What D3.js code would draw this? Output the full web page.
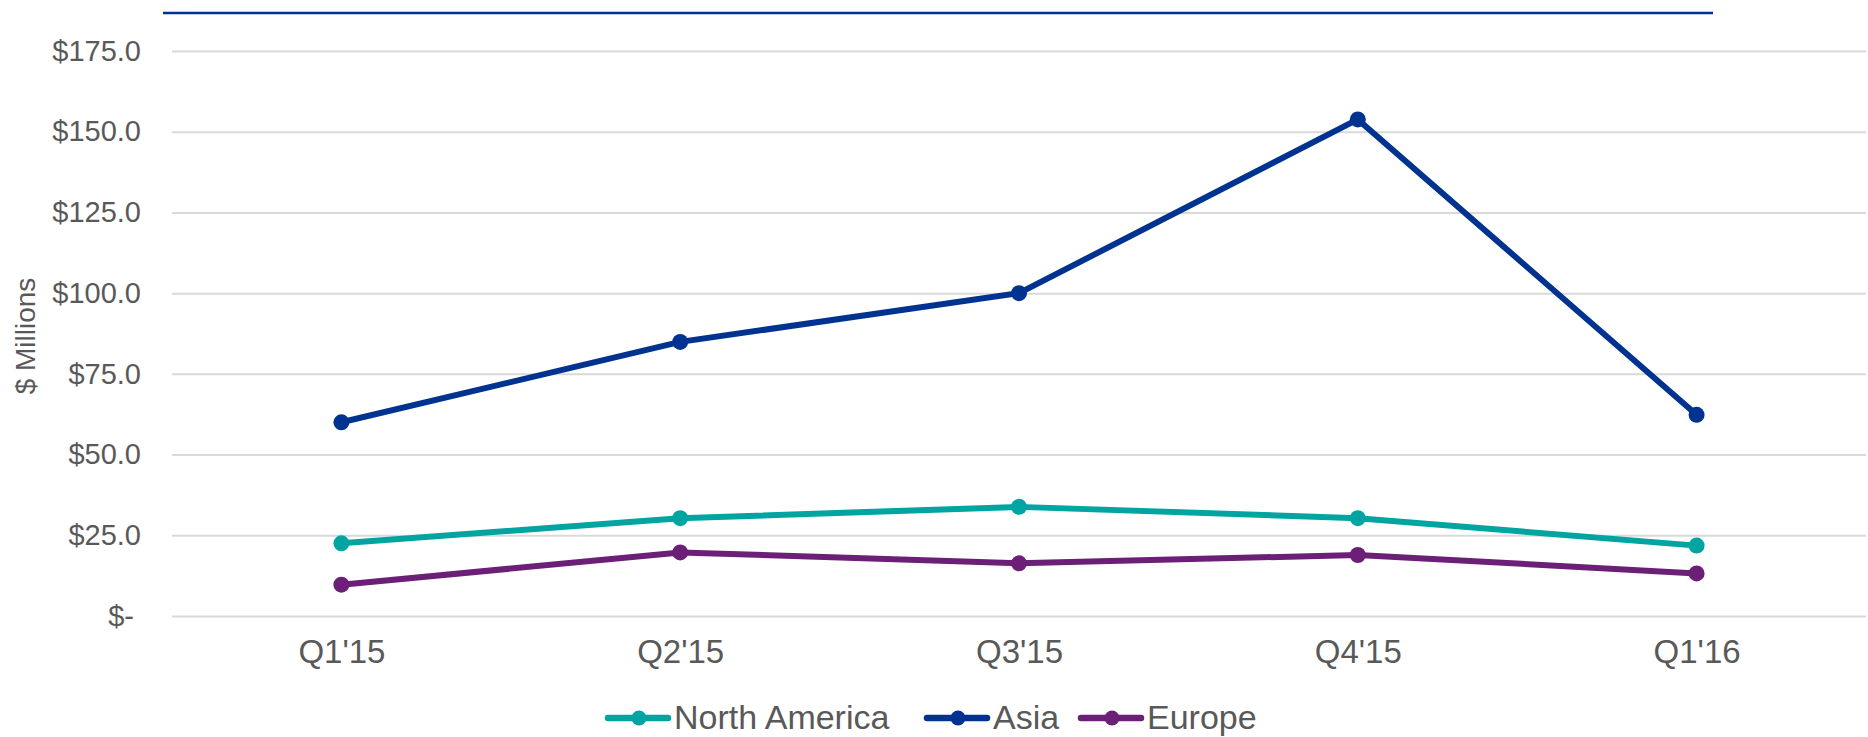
<!DOCTYPE html>
<html>
<head>
<meta charset="utf-8">
<script src="https://cdn.jsdelivr.net/npm/d3@7"></script>
<style>
  body { margin: 0; background: #fff; }
  svg { display: block; font-family: "Liberation Sans", Arial, sans-serif; }
</style>
</head>
<body>
<div id="app"></div>
<script>
var quarters = ["Q1'15", "Q2'15", "Q3'15", "Q4'15", "Q1'16"];
var northAmerica = [22.5, 30.3, 33.8, 30.3, 21.8];
var asia = [60.0, 84.9, 100.0, 153.8, 62.3];
var europe = [9.7, 19.7, 16.3, 18.9, 13.2];
var yTicks = [0, 25, 50, 75, 100, 125, 150, 175];
var seriesNames = ["North America", "Asia", "Europe"];
var seriesColors = ["#00A5A1", "#00338F", "#6C1F77"];

var width = 1868,
    height = 737,
    textColor = '#595959';

var series = [northAmerica, asia, europe].map(function(vals, i) {
  return { name: seriesNames[i], color: seriesColors[i], values: vals };
});

var svg = d3.select('#app').append('svg')
            .attr('width', width)
            .attr('height', height);

var x = d3.scalePoint()
          .domain(quarters)
          .range([172, 1866])
          .padding(0.5);

var y = d3.scaleLinear()
          .domain([0, 175])
          .range([616, 51]);

// decorative rule at the top
svg.append('line')
   .attr('x1', 163).attr('x2', 1713)
   .attr('y1', 13).attr('y2', 13)
   .style('stroke', '#00338F')
   .style('stroke-width', 2.5);

// gridlines + y labels
var yAxis = svg.append('g')
               .attr('transform', 'translate(172,0)')
               .call(d3.axisLeft(y)
                       .tickValues(yTicks)
                       .tickSize(-(1866 - 172))
                       .tickPadding(31)
                       .tickFormat(function(d) { return d === 0 ? '$-' : '$' + d3.format('.1f')(d); }));
yAxis.select('.domain').remove();
yAxis.selectAll('.tick line')
     .style('stroke', '#D9D9D9')
     .style('stroke-width', 2);
yAxis.selectAll('.tick text')
     .style('font-size', '29px')
     .style('fill', textColor)
     .attr('font-family', null)
     .attr('dx', function(d) { return d === 0 ? -7 : 0; });

// x labels
var xAxis = svg.append('g')
               .attr('transform', 'translate(0,616)')
               .call(d3.axisBottom(x).tickSize(0).tickPadding(24));
xAxis.select('.domain').remove();
xAxis.selectAll('.tick text')
     .style('font-size', '33px')
     .style('fill', textColor)
     .attr('font-family', null);

// y title
svg.append('text')
   .attr('transform', 'translate(35,336) rotate(-90)')
   .attr('text-anchor', 'middle')
   .style('font-size', '28px')
   .style('fill', textColor)
   .text('$ Millions');

// lines
var line = d3.line()
             .x(function(d, i) { return x(quarters[i]); })
             .y(function(d) { return y(d); });

var groups = svg.selectAll('.series')
                .data(series)
                .enter().append('g')
                .attr('class', 'series');

groups.append('path')
      .attr('d', function(d) { return line(d.values); })
      .style('fill', 'none')
      .style('stroke', function(d) { return d.color; })
      .style('stroke-width', 6)
      .style('stroke-linejoin', 'round');

groups.selectAll('circle')
      .data(function(d) { return d.values.map(function(v, i) { return { v: v, i: i, color: d.color }; }); })
      .enter().append('circle')
      .attr('cx', function(d) { return x(quarters[d.i]); })
      .attr('cy', function(d) { return y(d.v); })
      .attr('r', 8)
      .style('fill', function(d) { return d.color; });

// legend (nudged up a little so descenders stay inside the frame)
var legendX = [605, 924, 1078];
var legend = svg.selectAll('.legend')
                .data(series)
                .enter().append('g')
                .attr('class', 'legend')
                .attr('transform', function(d, i) { return 'translate(' + legendX[i] + ',718)'; });

legend.append('line')
      .attr('x1', 3).attr('x2', 63)
      .style('stroke', function(d) { return d.color; })
      .style('stroke-width', 6.5)
      .style('stroke-linecap', 'round');
legend.append('circle')
      .attr('cx', 34)
      .attr('r', 7.5)
      .style('fill', function(d) { return d.color; });
legend.append('text')
      .attr('x', 69)
      .attr('y', 11)
      .style('font-size', '34px')
      .style('fill', textColor)
      .text(function(d) { return d.name; });
</script>
</body>
</html>
